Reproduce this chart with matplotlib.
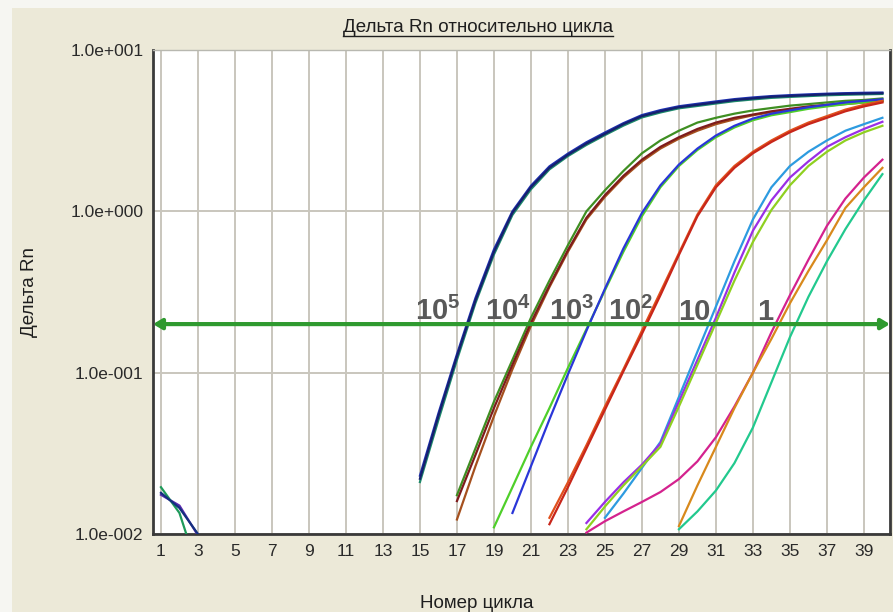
import numpy as np
import matplotlib.pyplot as plt
from matplotlib.lines import Line2D
from matplotlib.patches import Rectangle

plt.rcParams['font.family'] = ['Liberation Sans', 'DejaVu Sans']
plt.rcParams['mathtext.fontset'] = 'custom'
plt.rcParams['mathtext.rm'] = 'Liberation Sans'
plt.rcParams['mathtext.bf'] = 'Liberation Sans:bold'

# ранние точки (циклы 1-3)
early_cycles = [1, 2, 3]
early_navy = [0.018, 0.0145, 0.0100]
early_purple = [0.0175, 0.0150, 0.0098]
early_teal = [0.0195, 0.0135, 0.0060]

# 10^5 : циклы 15..40
a_start = 15
a_navy = [0.022, 0.054, 0.126, 0.28, 0.56, 0.98, 1.41, 1.86, 2.24, 2.63, 3.02, 3.47, 3.89,
          4.17, 4.42, 4.57, 4.73, 4.90, 5.01, 5.13, 5.19, 5.25, 5.31, 5.35, 5.37, 5.40]
a_blue = [0.023, 0.056, 0.130, 0.29, 0.58, 1.00, 1.44, 1.90, 2.28, 2.68, 3.08, 3.52, 3.95,
          4.24, 4.48, 4.64, 4.80, 4.96, 5.08, 5.18, 5.25, 5.31, 5.36, 5.40, 5.43, 5.45]
a_teal = [0.021, 0.051, 0.120, 0.27, 0.54, 0.95, 1.37, 1.82, 2.20, 2.58, 2.97, 3.40, 3.82,
          4.10, 4.35, 4.50, 4.66, 4.82, 4.94, 5.05, 5.12, 5.18, 5.24, 5.28, 5.31, 5.34]

# 10^4 : циклы 17..40
b_start = 17
b_green = [0.0174, 0.0339, 0.0661, 0.120, 0.219, 0.372, 0.617, 1.00, 1.35, 1.78, 2.29, 2.75,
           3.16, 3.55, 3.80, 4.03, 4.22, 4.37, 4.52, 4.62, 4.73, 4.84, 4.90, 5.01]
b_maroon = [0.0160, 0.0309, 0.0603, 0.112, 0.204, 0.347, 0.575, 0.912, 1.26, 1.66, 2.09, 2.51,
            2.88, 3.24, 3.55, 3.80, 3.98, 4.17, 4.32, 4.47, 4.57, 4.68, 4.79, 4.84]
b_brown = [0.0123, 0.0263, 0.0537, 0.105, 0.195, 0.339, 0.562, 0.891, 1.23, 1.62, 2.04, 2.45,
           2.82, 3.16, 3.47, 3.72, 3.94, 4.12, 4.27, 4.42, 4.52, 4.62, 4.73, 4.79]

# 10^3
c_green_start = 19
c_green = [0.0110, 0.0195, 0.0347, 0.0603, 0.107, 0.186, 0.324, 0.562, 0.933, 1.41, 1.91,
           2.40, 2.88, 3.31, 3.67, 3.94, 4.12, 4.32, 4.47, 4.62, 4.73, 4.84]
c_blue_start = 20
c_blue = [0.0135, 0.0263, 0.0513, 0.0977, 0.182, 0.331, 0.589, 0.977, 1.45, 1.95, 2.45,
          2.95, 3.39, 3.76, 4.03, 4.22, 4.42, 4.57, 4.73, 4.84, 4.95]

# 10^2 : циклы 22..40
d_start = 22
d_red = [0.0115, 0.0195, 0.0339, 0.0589, 0.102, 0.174, 0.302, 0.537, 0.933, 1.41, 1.86,
         2.29, 2.69, 3.09, 3.47, 3.80, 4.17, 4.47, 4.73]
d_orange = [0.0126, 0.0209, 0.0355, 0.0617, 0.105, 0.182, 0.316, 0.550, 0.955, 1.45, 1.91,
            2.34, 2.75, 3.16, 3.55, 3.89, 4.27, 4.57, 4.84]

# 10
e_cyan_start = 25
e_cyan = [0.0126, 0.0178, 0.0257, 0.0372, 0.0708, 0.135, 0.257, 0.490, 0.891, 1.41, 1.91,
          2.34, 2.75, 3.16, 3.47, 3.80]
e_start = 24
e_violet = [0.0117, 0.0158, 0.0209, 0.0269, 0.0363, 0.0661, 0.120, 0.219, 0.417, 0.759,
            1.17, 1.62, 2.04, 2.51, 2.88, 3.24, 3.59]
e_lime = [0.0107, 0.0148, 0.0200, 0.0263, 0.0347, 0.0617, 0.112, 0.204, 0.372, 0.646,
          1.02, 1.45, 1.91, 2.34, 2.75, 3.09, 3.39]

# 1
f_magenta_start = 24
f_magenta = [0.0102, 0.0120, 0.0138, 0.0158, 0.0182, 0.0219, 0.0282, 0.0398, 0.0617, 0.100,
             0.178, 0.302, 0.501, 0.813, 1.20, 1.62, 2.09]
f_start = 29
f_orange = [0.0112, 0.0200, 0.0347, 0.0603, 0.100, 0.162, 0.269, 0.427, 0.661, 1.05, 1.41, 1.86]
f_teal = [0.0107, 0.0138, 0.0186, 0.0275, 0.0457, 0.0871, 0.166, 0.295, 0.490, 0.776, 1.17, 1.70]

threshold = 0.2
label_texts = [r'$\mathbf{10^{5}}$', r'$\mathbf{10^{4}}$', r'$\mathbf{10^{3}}$',
               r'$\mathbf{10^{2}}$', '10', '1']
label_cycles = [14.73, 18.51, 21.97, 25.16, 28.95, 33.22]

y_ticks = [0.01, 0.1, 1, 10]
y_ticklabels = ['1.0e-002', '1.0e-001', '1.0e+000', '1.0e+001']
x_ticks = list(range(1, 40, 2))

curves = [
    (early_cycles[0], early_purple, '#5a2ab0'),
    (early_cycles[0], early_teal, '#1e9a5a'),
    (early_cycles[0], early_navy, '#14307e'),
    (a_start, a_teal, '#1d8a6a'),
    (a_start, a_blue, '#1d2fb0'),
    (a_start, a_navy, '#16206e'),
    (b_start, b_brown, '#a5501e'),
    (b_start, b_green, '#3f8f22'),
    (b_start, b_maroon, '#7e1c1c'),
    (c_green_start, c_green, '#4fcf2a'),
    (c_blue_start, c_blue, '#2a36d8'),
    (d_start, d_orange, '#e0501c'),
    (d_start, d_red, '#c8261a'),
    (e_cyan_start, e_cyan, '#2d9be0'),
    (e_start, e_violet, '#9a2ee6'),
    (e_start, e_lime, '#8fd020'),
    (f_magenta_start, f_magenta, '#d4228e'),
    (f_start, f_orange, '#d8891c'),
    (f_start, f_teal, '#22c98e'),
]

fig = plt.figure(figsize=(8.93, 6.12), dpi=100)
fig.patch.set_facecolor('#f6f6f2')
fig.add_artist(Rectangle((12 / 893, 0), 1, 1 - 8 / 612, transform=fig.transFigure,
                         facecolor='#ece9d8', edgecolor='none', zorder=0))

ax = fig.add_axes([153 / 893, 1 - 534 / 612, (890 - 153) / 893, (534 - 50) / 612])
ax.set_facecolor('white')
ax.set_yscale('log')
ax.set_ylim(0.01, 10)
ax.set_xlim(0.57, 40.41)

for start, vals, col in curves:
    xs = np.arange(start, start + len(vals))
    ax.plot(xs, vals, color=col, lw=1.6, zorder=3)

ax.annotate('', xy=(1, threshold), xytext=(0, threshold),
            xycoords=ax.get_yaxis_transform(), textcoords=ax.get_yaxis_transform(),
            arrowprops=dict(arrowstyle='<|-|>,head_length=0.5,head_width=0.3',
                            color='#2f9a2f', lw=3, shrinkA=0, shrinkB=0),
            annotation_clip=False, zorder=5)

for txt, cx in zip(label_texts, label_cycles):
    ax.text(cx, 0.213, txt, fontsize=21, fontweight='bold', color='#595959',
            ha='left', va='baseline', zorder=6)

ax.set_xticks(x_ticks)
ax.set_xticklabels([str(t) for t in x_ticks])
ax.set_yticks(y_ticks)
ax.set_yticklabels(y_ticklabels)
ax.yaxis.set_minor_locator(plt.NullLocator())
ax.tick_params(length=0, labelsize=12.5, colors='#2a2a2a')
ax.tick_params(axis='x', pad=7)
ax.tick_params(axis='y', pad=7)
ax.grid(True, which='major', color='#c9c6bd', lw=1.4)
ax.set_axisbelow(True)

for side in ['left', 'bottom', 'right']:
    ax.spines[side].set_color('#3a3a3a')
    ax.spines[side].set_linewidth(2)
ax.spines['top'].set_color('#b8b8b0')
ax.spines['top'].set_linewidth(1)

title = fig.text(478 / 893, 1 - 28 / 612, 'Дельта Rn относительно цикла',
                 ha='center', va='center', fontsize=13.5, color='#1e1e1e')
fig.text(477 / 893, 1 - 603 / 612, 'Номер цикла', ha='center', va='center',
         fontsize=13.5, color='#1e1e1e')
fig.text(30 / 893, 1 - 292 / 612, 'Дельта Rn', ha='center', va='center',
         rotation=90, fontsize=13.5, color='#1e1e1e')

# подчеркивание заголовка
fig.canvas.draw()
bb = title.get_window_extent()
y_line = bb.y0 + 1
fig.add_artist(Line2D([bb.x0 / 893, bb.x1 / 893], [y_line / 612, y_line / 612],
                      transform=fig.transFigure, color='#1e1e1e', lw=1))

fig.savefig('out.png', dpi=100, facecolor=fig.get_facecolor())
